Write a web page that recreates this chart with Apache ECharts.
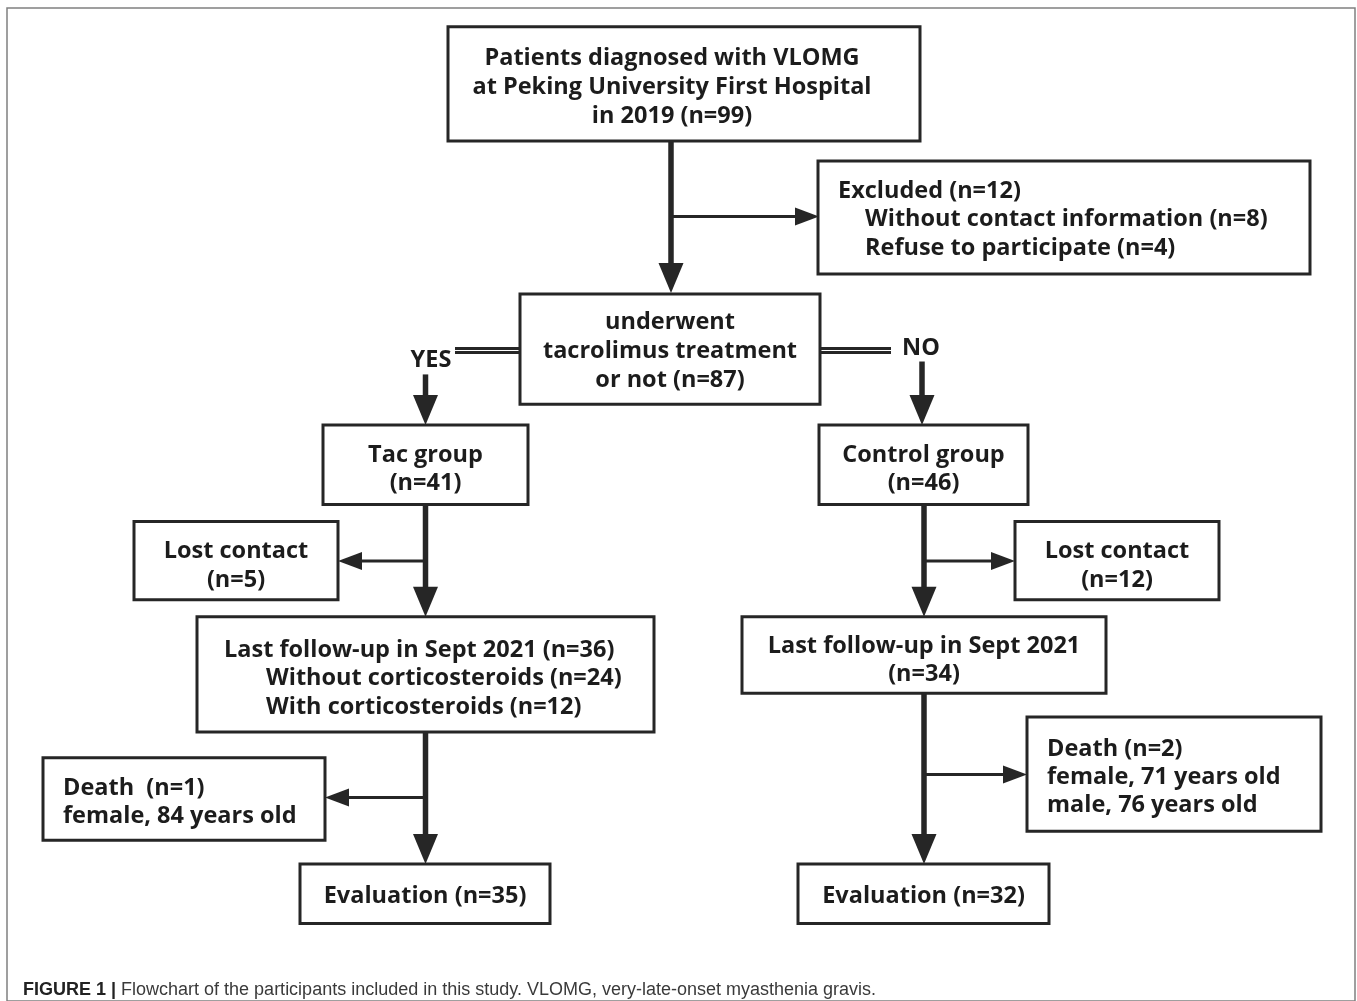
<!DOCTYPE html>
<html>
<head>
<meta charset="utf-8">
<script src="https://cdn.jsdelivr.net/npm/echarts@6/dist/echarts.min.js"></script>
<style>
html,body{margin:0;padding:0;background:#fff;}
#c{width:1357px;height:1001px;}
</style>
</head>
<body>
<div id="c"></div>
<script>
// ---- flowchart data (layout coordinates in the figure's own units) ----
const boxes = [
  [448, 27, 920, 142],     // Patients diagnosed
  [818, 162, 1310, 276],   // Excluded
  [520, 296, 820, 407],    // decision
  [323, 428, 528, 508],    // Tac group
  [819, 428, 1028, 508],   // Control group
  [134, 525, 338, 604],    // Lost contact (Tac)
  [1015, 525, 1219, 604],  // Lost contact (Control)
  [197, 621, 654, 737],    // Last follow-up (Tac)
  [742, 621, 1106, 698],   // Last follow-up (Control)
  [43, 763, 325, 846],     // Death (Tac)
  [1027, 722, 1321, 837],  // Death (Control)
  [300, 870, 550, 930],    // Evaluation (Tac)
  [798, 870, 1049, 930]    // Evaluation (Control)
];

const centerLabels = [
  [672, 59, 'Patients diagnosed with VLOMG'],
  [672, 88, 'at Peking University First Hospital'],
  [672, 117, 'in 2019 (n=99)'],
  [670, 325, 'underwent'],
  [670, 354, 'tacrolimus treatment'],
  [670, 383, 'or not (n=87)'],
  [431, 363, 'YES'],
  [921, 351, 'NO'],
  [425.5, 458, 'Tac group'],
  [425.5, 487, '(n=41)'],
  [923.5, 458, 'Control group'],
  [923.5, 487, '(n=46)'],
  [236, 555, 'Lost contact'],
  [236, 584, '(n=5)'],
  [1117, 555, 'Lost contact'],
  [1117, 584, '(n=12)'],
  [924, 651, 'Last follow-up in Sept 2021'],
  [924, 679, '(n=34)'],
  [425, 903, 'Evaluation (n=35)'],
  [923.5, 903, 'Evaluation (n=32)']
];

const leftLabels = [
  [838, 193, 'Excluded (n=12)'],
  [865, 221, 'Without contact information (n=8)'],
  [865, 250, 'Refuse to participate (n=4)'],
  [224, 655, 'Last follow-up in Sept 2021 (n=36)'],
  [266, 683, 'Without corticosteroids (n=24)'],
  [266, 712, 'With corticosteroids (n=12)'],
  [63, 794, 'Death  (n=1)'],
  [63, 822, 'female, 84 years old'],
  [1047, 755, 'Death (n=2)'],
  [1047, 783, 'female, 71 years old'],
  [1047, 811, 'male, 76 years old']
];

const mainArrows = [
  [671, 142, 671, 295],
  [425.5, 377, 425.5, 428],
  [922, 364, 922, 428],
  [425.5, 508, 425.5, 621],
  [924, 508, 924, 621],
  [425.5, 737, 425.5, 870],
  [924, 698, 924, 870]
];

const sideArrows = [
  [671, 218, 819, 218],
  [425.5, 565, 338, 565],
  [924, 565, 1015, 565],
  [425.5, 803, 325, 803],
  [924, 780, 1027, 780]
];

const doubleLines = [
  [455, 353, 521, 353],
  [819, 353, 891, 353]
];

const captionBold = 'FIGURE 1 |';
const captionText = 'Flowchart of the participants included in this study. VLOMG, very-late-onset myasthenia gravis.';

// ---- rendering ----
const INK = '#262626';
const FONT = '700 23.5px "Open Sans"';

function arrowItem(api, w, headLen, headW) {
  const p1 = api.coord([api.value(0), api.value(1)]);
  const p2 = api.coord([api.value(2), api.value(3)]);
  const dx = p2[0] - p1[0], dy = p2[1] - p1[1];
  const len = Math.sqrt(dx * dx + dy * dy);
  const ux = dx / len, uy = dy / len;
  const bx = p2[0] - ux * headLen, by = p2[1] - uy * headLen;
  const nx = -uy, ny = ux;
  return {
    type: 'group',
    children: [
      { type: 'line', shape: { x1: p1[0], y1: p1[1], x2: bx + ux * 2, y2: by + uy * 2 },
        style: { stroke: INK, lineWidth: w } },
      { type: 'polygon', shape: { points: [
          [p2[0], p2[1]],
          [bx + nx * headW / 2, by + ny * headW / 2],
          [bx - nx * headW / 2, by - ny * headW / 2]] },
        style: { fill: INK } }
    ]
  };
}

const chart = echarts.init(document.getElementById('c'), null, { renderer: 'canvas' });
chart.setOption({
  animation: false,
  backgroundColor: '#fff',
  title: {
    left: 23, top: 981, padding: 0,
    text: '{b|' + captionBold + '} ' + captionText,
    textStyle: {
      fontFamily: '"Liberation Sans", Arial, sans-serif',
      fontSize: 18, fontWeight: 'normal', color: '#3a3a3a',
      rich: { b: { fontFamily: '"Liberation Sans", Arial, sans-serif', fontSize: 18, fontWeight: 'bold', color: '#222' } }
    }
  },
  grid: { left: 7, top: 8, width: 1348, height: 1000, show: true, borderColor: '#808080', borderWidth: 1.5, backgroundColor: '#fff' },
  xAxis: { type: 'value', min: 7, max: 1355, show: false },
  yAxis: { type: 'value', min: 8, max: 1008, inverse: true, show: false },
  series: [
    {
      type: 'custom', z: 2, silent: true,
      data: mainArrows,
      renderItem: function (params, api) { return arrowItem(api, 5.5, 30, 25); }
    },
    {
      type: 'custom', z: 2, silent: true,
      data: sideArrows,
      renderItem: function (params, api) { return arrowItem(api, 3, 24, 18); }
    },
    {
      type: 'custom', z: 2, silent: true,
      data: doubleLines,
      renderItem: function (params, api) {
        const p1 = api.coord([api.value(0), api.value(1)]);
        const p2 = api.coord([api.value(2), api.value(3)]);
        return { type: 'group', children: [
          { type: 'line', shape: { x1: p1[0], y1: p1[1] - 2, x2: p2[0], y2: p2[1] - 2 }, style: { stroke: INK, lineWidth: 3 } },
          { type: 'line', shape: { x1: p1[0], y1: p1[1] + 2, x2: p2[0], y2: p2[1] + 2 }, style: { stroke: INK, lineWidth: 3 } }
        ] };
      }
    },
    {
      type: 'custom', z: 3, silent: true,
      data: boxes,
      renderItem: function (params, api) {
        const a = api.coord([api.value(0), api.value(1)]);
        const b = api.coord([api.value(2), api.value(3)]);
        return { type: 'rect', shape: { x: a[0], y: a[1], width: b[0] - a[0], height: b[1] - a[1] },
          style: { fill: '#fff', stroke: INK, lineWidth: 3 } };
      }
    },
    {
      type: 'custom', z: 4, silent: true,
      data: centerLabels.map(function (d) { return [d[0], d[1]]; }),
      renderItem: function (params, api) {
        const p = api.coord([api.value(0), api.value(1)]);
        return { type: 'text', x: p[0], y: p[1],
          style: { text: centerLabels[params.dataIndex][2], font: FONT, fill: '#1c1c1c', textAlign: 'center', textVerticalAlign: 'middle' } };
      }
    },
    {
      type: 'custom', z: 4, silent: true,
      data: leftLabels.map(function (d) { return [d[0], d[1]]; }),
      renderItem: function (params, api) {
        const p = api.coord([api.value(0), api.value(1)]);
        return { type: 'text', x: p[0], y: p[1],
          style: { text: leftLabels[params.dataIndex][2], font: FONT, fill: '#1c1c1c', textAlign: 'left', textVerticalAlign: 'middle' } };
      }
    }
  ]
});
</script>
</body>
</html>
